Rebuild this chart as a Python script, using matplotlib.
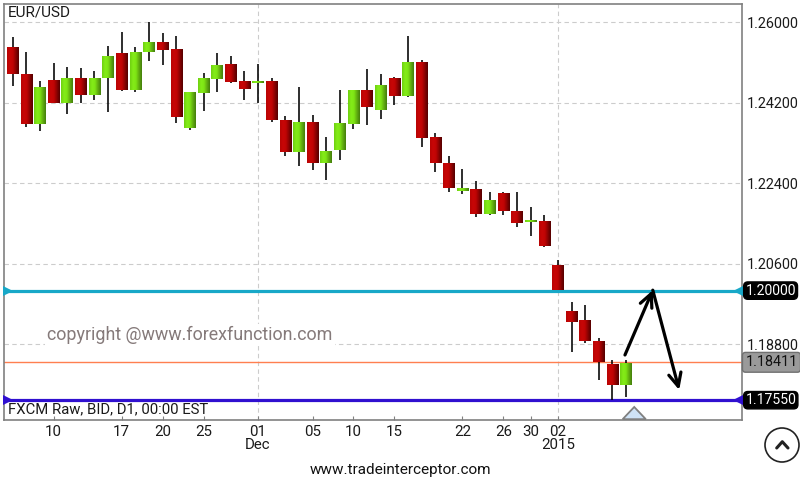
import numpy as np
import matplotlib
matplotlib.use('Agg')
import matplotlib.pyplot as plt
from matplotlib.colors import LinearSegmentedColormap
from matplotlib.lines import Line2D
from matplotlib.transforms import IdentityTransform

plt.rcParams['font.family'] = ['Roboto', 'DejaVu Sans']

# daily candles
opens = [1.25426, 1.24844, 1.23726, 1.24688, 1.24196, 1.24733, 1.24375, 1.24755, 1.25314, 1.24487,
         1.25336, 1.25538, 1.25403, 1.23637, 1.24420, 1.24733, 1.25068, 1.24666, 1.24643, 1.24687,
         1.23815, 1.23100, 1.23770, 1.22854, 1.23144, 1.23726, 1.24486, 1.24039, 1.24754, 1.24352,
         1.25112, 1.23435, 1.22854, 1.22228, 1.22272, 1.21713, 1.22161, 1.21780, 1.21534, 1.21557,
         1.20574, 1.19523, 1.19322, 1.18874, 1.18360, 1.17891]
highs = [1.25672, 1.25336, 1.24688, 1.25090, 1.25001, 1.24979, 1.24912, 1.25470, 1.25784, 1.25448,
         1.26007, 1.25761, 1.25694, 1.24442, 1.24867, 1.25314, 1.25247, 1.24912, 1.25068, 1.24754,
         1.23905, 1.24553, 1.23927, 1.23435, 1.24486, 1.24486, 1.24955, 1.24844, 1.24777, 1.25693,
         1.25157, 1.23524, 1.23010, 1.22720, 1.22451, 1.22205, 1.22205, 1.22205, 1.21870, 1.21691,
         1.20685, 1.19746, 1.19679, 1.18941, 1.18449, 1.18449]
lows = [1.24576, 1.23659, 1.23570, 1.24196, 1.23950, 1.24196, 1.24263, 1.23995, 1.24464, 1.24442,
        1.25135, 1.25046, 1.23749, 1.23592, 1.24017, 1.24442, 1.24643, 1.24263, 1.24196, 1.23770,
        1.23010, 1.22787, 1.22697, 1.22474, 1.22921, 1.23614, 1.23703, 1.23837, 1.24150, 1.24329,
        1.23211, 1.22652, 1.22205, 1.22161, 1.21646, 1.21691, 1.21691, 1.21423, 1.21221, 1.20975,
        1.20015, 1.18628, 1.18830, 1.18002, 1.17555, 1.17622]
closes = [1.24844, 1.23726, 1.24531, 1.24196, 1.24755, 1.24375, 1.24755, 1.25225, 1.24487, 1.25336,
          1.25538, 1.25381, 1.23883, 1.24420, 1.24755, 1.25046, 1.24666, 1.24509, 1.24666, 1.23815,
          1.23100, 1.23770, 1.22854, 1.23122, 1.23726, 1.24486, 1.24106, 1.24598, 1.24352, 1.25090,
          1.23413, 1.22854, 1.22295, 1.22295, 1.21713, 1.22004, 1.21780, 1.21512, 1.21557, 1.20998,
          1.20015, 1.19299, 1.18874, 1.18405, 1.17891, 1.18382]

tick_idx = [3, 8, 11, 14, 18, 22, 25, 28, 33, 36, 38, 40]
tick_labels = ['10', '17', '20', '25', '01\nDec', '05', '10', '15', '22', '26', '30', '02\n2015']
month_idx = [18, 40]
price_ticks = [1.26, 1.242, 1.224, 1.206, 1.188]

resistance = 1.2
support = 1.1755
last_price = 1.18397

arrow_x = [44.92, 46.96, 48.9]
arrow_y = [1.18561, 1.2001, 1.17778]

reds = LinearSegmentedColormap.from_list('r', ['#b80404', '#c80606', '#bf0404', '#8a0202', '#560000'])
greens = LinearSegmentedColormap.from_list('g', ['#6fd012', '#84ec18', '#7ee414', '#62ae10', '#45800c'])
grad = np.linspace(0, 1, 32).reshape(1, -1)

fig = plt.figure(figsize=(8, 4.8), dpi=100)
ax = fig.add_axes([3.5 / 800, 60 / 480, 738 / 800, 416.5 / 480])

# grid
for p in price_ticks:
    ax.axhline(p, color='#cccccc', lw=0.8, ls=(0, (4, 3)), zorder=1)
for m in month_idx:
    ax.axvline(m, color='#cccccc', lw=0.8, ls=(0, (4, 3)), zorder=1)

# levels
ax.axhline(resistance, color='#18a8c8', lw=2.3, zorder=2)
ax.axhline(support, color='#3010d0', lw=2.3, zorder=2)
ax.axhline(last_price, color='#ff7f50', lw=1.0, zorder=2)

# candles
idx = np.arange(len(opens))
ax.vlines(idx, lows, highs, color='black', lw=1.15, zorder=3)
for i, o, c in zip(idx, opens, closes):
    cmap = greens if c >= o else reds
    ax.imshow(grad, cmap=cmap, aspect='auto', interpolation='bilinear', zorder=4,
              extent=[i - 0.42, i + 0.42, min(o, c), max(o, c)])

ax.set_xlim(-0.675, 53.47)
ax.set_ylim(1.17107, 1.2642)

ax.yaxis.tick_right()
ax.set_yticks(price_ticks)
ax.set_yticklabels(['%.5f' % p for p in price_ticks])
ax.tick_params(axis='y', length=0, pad=3.5, labelsize=10.4, labelcolor='#1a1a1a')
ax.set_xticks(tick_idx)
ax.set_xticklabels(tick_labels, linespacing=0.95)
ax.tick_params(axis='x', direction='in', length=3, width=0.8, color='#808080', pad=3.5,
               labelsize=10.8, labelcolor='#1a1a1a')
for s in ax.spines.values():
    s.set_color('#808080')
    s.set_linewidth(1.2)

# level end markers
for lvl, col in [(resistance, '#18a8c8'), (support, '#3010d0')]:
    ax.plot([0.0065], [lvl], '>', color=col, ms=7, mew=0, transform=ax.get_yaxis_transform(),
            clip_on=False, zorder=5)
    ax.plot([0.9965], [lvl], '<', color=col, ms=8, mew=0, transform=ax.get_yaxis_transform(),
            clip_on=False, zorder=5)

# price badges
t = ax.get_yaxis_transform()
for lvl, txt in [(resistance, '1.20000'), (support, '1.17550')]:
    ax.text(1.0052, lvl, txt, transform=t, ha='left', va='center', color='white', fontsize=10.1,
            bbox=dict(boxstyle='round,pad=0.12,rounding_size=0.3', fc='black', ec='black'), zorder=6)
ax.text(1.0052, last_price, '1.18411', transform=t, ha='left', va='center', color='#111111', fontsize=10.4,
        bbox=dict(boxstyle='round,pad=0.2,rounding_size=0.2', fc='#9a9a9a', ec='#707070'), zorder=6)

# marker on the last candle
ax.fill([44.75, 45.6, 46.45], [1.17125, 1.17398, 1.17125], fc='#cfe3f7', ec='#808080', lw=1.3, zorder=5)

# hand drawn arrows
for k in range(2):
    ax.annotate('', xy=(arrow_x[k + 1], arrow_y[k + 1]), xytext=(arrow_x[k], arrow_y[k]), zorder=7,
                arrowprops=dict(arrowstyle='->,head_length=0.95,head_width=0.45', color='black', lw=2.3,
                                shrinkA=0, shrinkB=0))

ax.text(2.52, 1.19008, 'copyright @www.forexfunction.com', color='#857a7a', fontsize=12.85, ha='left',
        va='center', bbox=dict(fc='white', ec='none', pad=1.5), zorder=2.5)
ax.text(0.006, 0.9785, 'EUR/USD', transform=ax.transAxes, ha='left', va='center', fontsize=11,
        color='#1a1a1a', zorder=6)
ax.text(0.006, 0.0265, 'FXCM Raw, BID, D1, 00:00 EST', transform=ax.transAxes, ha='left', va='center',
        fontsize=10.7, color='#1a1a1a', zorder=6)

fig.text(400.5 / 800, 10 / 480, 'www.tradeinterceptor.com', ha='center', va='center', fontsize=11,
         color='#111111')

# scroll button
fig.add_artist(plt.Circle((782, 35), 17, fc='white', ec='#222222', lw=1.2, transform=IdentityTransform()))
fig.add_artist(Line2D([776.7, 782.3, 788], [32, 38.3, 32], color='#222222', lw=2.2, solid_capstyle='round',
                      transform=IdentityTransform()))

fig.savefig('out.png', dpi=100)
